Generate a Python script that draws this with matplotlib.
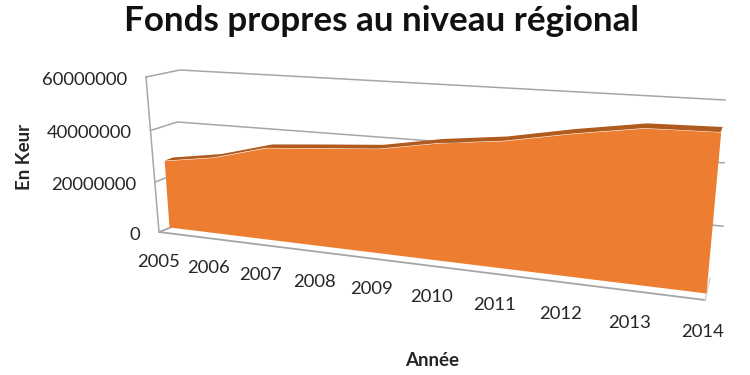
import numpy as np
import matplotlib
matplotlib.use("Agg")
import matplotlib.pyplot as plt
from matplotlib.transforms import Transform

years = [2005, 2006, 2007, 2008, 2009, 2010, 2011, 2012, 2013, 2014]
values = [27.0e6, 30.1e6, 35.5e6, 37.1e6, 38.6e6, 42.3e6, 44.7e6, 48.7e6, 52.0e6, 52.3e6]
y_ticks = [0, 20000000, 40000000, 60000000]
title = "Fonds propres au niveau régional"
x_title = "Année"
y_title = "En Keur"

ORANGE = "#ED7D31"
DARK = "#B05A1E"
GRID = "#A6A6A6"
TEXT = "#262626"
plt.rcParams["font.family"] = ["Lato", "DejaVu Sans"]


class Perspective(Transform):
    """Maps (year, value) onto a plane seen in perspective, in pixel coordinates."""
    input_dims = 2
    output_dims = 2

    def __init__(self, x0, x1, ymax, bl, br, tl, tr):
        super().__init__()
        self.ymax = ymax
        self.x0 = x0
        self.x1 = x1
        src = [(0, 0), (1, 0), (0, 1), (1, 1)]
        dst = [bl, br, tl, tr]
        A, b = [], []
        for (u, v), (p, q) in zip(src, dst):
            A.append([u, v, 1, 0, 0, 0, -u * p, -v * p])
            A.append([0, 0, 0, u, v, 1, -u * q, -v * q])
            b += [p, q]
        self.h = np.append(np.linalg.solve(np.array(A, float), np.array(b, float)), 1).reshape(3, 3)

    def transform_non_affine(self, pts):
        pts = np.asarray(pts, float)
        u = (pts[:, 0] - self.x0) / (self.x1 - self.x0)
        v = pts[:, 1] / self.ymax
        q = self.h @ np.vstack([u, v, np.ones_like(u)])
        return (q[:2] / q[2]).T


x0, x1, ymax = years[0], years[-1], y_ticks[-1]
front = Perspective(x0, x1, ymax, (169, 227), (706, 293), (158, 76), (723, 107))
back = Perspective(x0, x1, ymax, (177, 223), (708, 288), (168, 74), (725, 102))
wall = Perspective(x0, x1, ymax, (172, 227), (722, 290), (180, 70), (725, 100))
floor = Perspective(x0, x1, ymax, (159, 232), (705, 300), (146, 77), (731, 60))
label = Perspective(x0, x1, ymax, (159, 262), (703, 332), (148, 111), (720, 146))

fig = plt.figure(figsize=(7.5, 3.75), dpi=100)
ax = fig.add_axes([0, 0, 1, 1])
ax.axis("off")

xs = np.array(years, float)
vs = np.array(values, float)

# walls
for t in y_ticks[1:]:
    ends = wall.transform(np.array([[x0, t], [x1, t]], float))
    corner = floor.transform(np.array([[x0, t]], float))[0]
    ax.plot([corner[0], ends[0, 0], ends[1, 0]], [corner[1], ends[0, 1], ends[1, 1]],
            color=GRID, lw=1.1, solid_joinstyle="round", zorder=1)
fl = floor.transform(np.array([[x0, 0], [x1, 0]], float))
wb = wall.transform(np.array([[x0, 0]], float))[0]
ax.plot([wb[0], fl[0, 0], fl[1, 0]], [wb[1], fl[0, 1], fl[1, 1]], color=GRID, lw=1.3, zorder=1)
lv = floor.transform(np.array([[x0, 0], [x0, ymax]], float))
ax.plot(lv[:, 0], lv[:, 1], color=GRID, lw=1.1, zorder=1)
ax.plot([fl[1, 0], fl[1, 0] + 5], [fl[1, 1], fl[1, 1] - 22], color="#D0D0D0", lw=1.0, zorder=1)

# area: top surface then front face
top_pts = np.column_stack([xs, vs])
band = np.vstack([front.transform(top_pts), back.transform(top_pts)[::-1]])
ax.fill(band[:, 0], band[:, 1], color=DARK, lw=0, zorder=2)
ax.fill_between(xs, 0, vs, color=ORANGE, lw=0, zorder=3, transform=front + ax.transData)

# ticks
for t in y_ticks:
    p = floor.transform(np.array([[x0, t]], float))[0]
    ax.text(p[0] - 19, p[1] + 3, str(t), ha="right", va="center", fontsize=13.3, color=TEXT)
for yr in years:
    p = label.transform(np.array([[yr, 0]], float))[0]
    ax.text(p[0], p[1], str(yr), ha="center", va="center", fontsize=13.3, color=TEXT)

ax.text(382, 21, title, ha="center", va="center", fontsize=25.2, fontweight="bold", color="#111111")
ax.text(432, 361, x_title, ha="center", va="center", fontsize=13.5, fontweight="bold", color=TEXT)
ax.text(25, 157, y_title, ha="center", va="center", rotation=90, fontsize=13.5, fontweight="bold", color=TEXT)

ax.set_xlim(0, 750)
ax.set_ylim(375, 0)
fig.savefig("out.png", dpi=100)
